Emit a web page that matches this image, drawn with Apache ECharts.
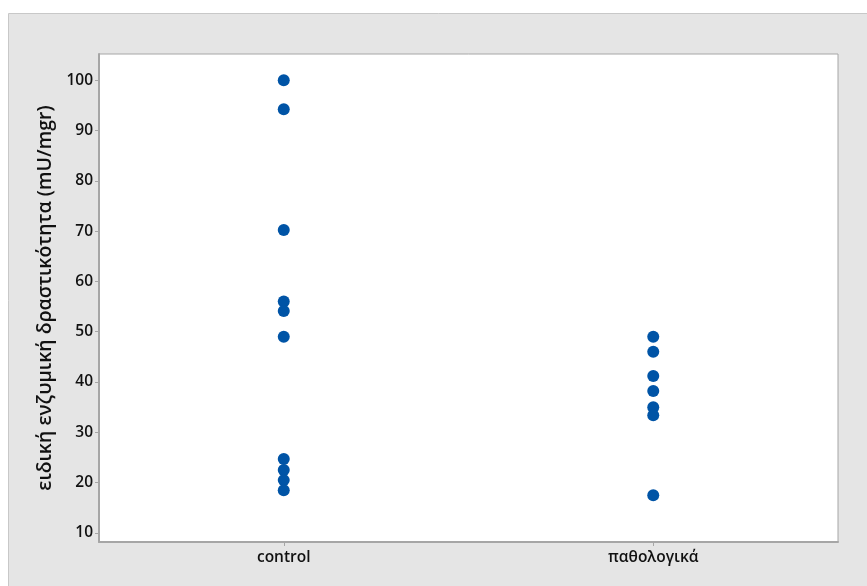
<!DOCTYPE html>
<html><head><meta charset="utf-8">
<script src="https://cdn.jsdelivr.net/npm/echarts@6/dist/echarts.min.js"></script>
<style>html,body{margin:0;padding:0;background:#fff}#c{width:867px;height:586px}</style>
</head><body><div id="c"></div>
<script>
const categories = ['control', 'παθολογικά'];
const controlValues = [100, 94.2, 70.2, 56, 54.1, 49, 24.7, 22.5, 20.5, 18.5];
const pathValues = [49, 46, 41.2, 38.2, 35, 33.4, 17.5];
const yTicks = [10, 20, 30, 40, 50, 60, 70, 80, 90, 100];
const yTitle = 'ειδική ενζυμική δραστικότητα (mU/mgr)';

const data = [];
controlValues.forEach(v => data.push([categories[0], v]));
pathValues.forEach(v => data.push([categories[1], v]));

const chart = echarts.init(document.getElementById('c'));
const font = '"Open Sans", "Noto Sans", sans-serif';
chart.setOption({
  animation: false,
  backgroundColor: '#ffffff',
  graphic: [{
    type: 'rect', z: -10, silent: true,
    shape: { x: 8.5, y: 13.5, width: 870, height: 580 },
    style: { fill: '#e5e5e5', stroke: '#c8c8c8', lineWidth: 1 }
  }],
  grid: {
    left: 99, right: 29, top: 54, bottom: 44,
    show: true, backgroundColor: '#ffffff', borderColor: '#a6a6a6', borderWidth: 1
  },
  xAxis: {
    type: 'category', data: categories, boundaryGap: true,
    axisLine: { show: true, lineStyle: { color: '#a6a6a6', width: 2 } },
    axisTick: { show: true, alignWithLabel: true, length: 4, lineStyle: { color: '#a6a6a6' } },
    axisLabel: { color: '#111111', fontSize: 15.5, fontWeight: 600, fontFamily: font, margin: 8 },
    splitLine: { show: false }
  },
  yAxis: {
    type: 'value', min: 8.2, max: 105.2, interval: 10,
    axisLine: { show: true, lineStyle: { color: '#a6a6a6', width: 2 } },
    axisTick: { show: true, length: 4, lineStyle: { color: '#a6a6a6' }, customValues: yTicks },
    axisLabel: { color: '#111111', fontSize: 15.5, fontWeight: 600, fontFamily: font, margin: 6, customValues: yTicks },
    splitLine: { show: false },
    name: yTitle, nameLocation: 'middle', nameGap: 41, nameRotate: 90,
    nameTextStyle: { color: '#111111', fontSize: 19.5, fontWeight: 600, fontFamily: font }
  },
  series: [{
    type: 'scatter', data: data, symbol: 'circle', symbolSize: 12,
    itemStyle: { color: '#0054a6', opacity: 1 }
  }]
});
</script></body></html>
